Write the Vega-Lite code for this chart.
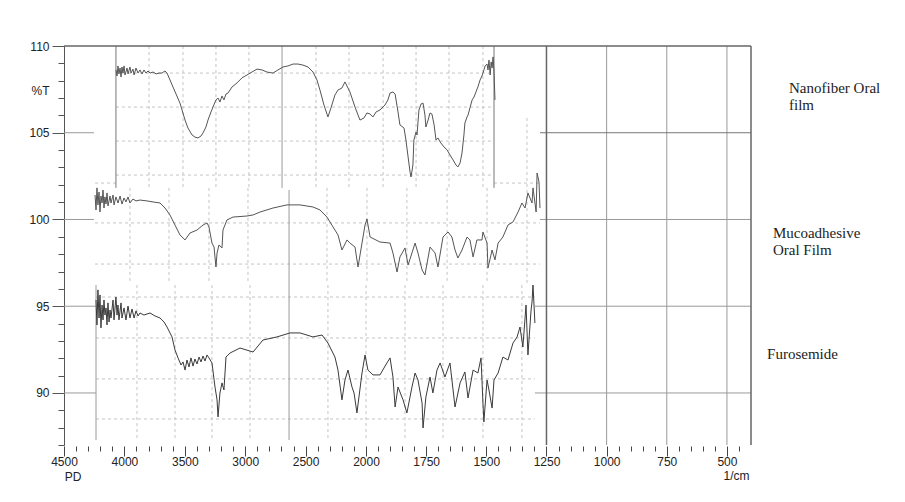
{
"$schema": "https://vega.github.io/schema/vega-lite/v6.json",
"width": 687, "height": 399,
"autosize": {"type": "none"},
"padding": {"left": 64, "top": 46, "right": 154, "bottom": 57},
"background": "white",
"config": {"view": {"stroke": null}, "font": "Liberation Sans"},
"datasets": {
"dashed": [
{"x":4070,"x2":1468,"y":108.44,"y2":108.44},{"x":4070,"x2":1468,"y":106.48,"y2":106.48},{"x":4070,"x2":1468,"y":104.52,"y2":104.52},{"x":4070,"x2":1468,"y":102.56,"y2":102.56},
{"x":3796,"x2":3796,"y":110,"y2":101.82},{"x":3515,"x2":3515,"y":110,"y2":101.82},{"x":3242,"x2":3242,"y":110,"y2":101.82},{"x":2969,"x2":2969,"y":110,"y2":101.82},{"x":2414,"x2":2414,"y":110,"y2":101.82},{"x":2141,"x2":2141,"y":110,"y2":101.82},{"x":1929,"x2":1929,"y":110,"y2":101.82},{"x":1792,"x2":1792,"y":110,"y2":101.82},{"x":1655,"x2":1655,"y":110,"y2":101.82},{"x":1514,"x2":1514,"y":110,"y2":101.82},
{"x":4243,"x2":4070,"y":102.1,"y2":102.1},{"x":1468,"x2":1277,"y":102.1,"y2":102.1},{"x":4243,"x2":1277,"y":99.8,"y2":99.8},{"x":4243,"x2":1277,"y":97.43,"y2":97.43},
{"x":3954,"x2":3954,"y":101.82,"y2":96.34},{"x":3631,"x2":3631,"y":101.82,"y2":96.34},{"x":3300,"x2":3300,"y":101.82,"y2":96.34},{"x":2977,"x2":2977,"y":101.82,"y2":96.34},{"x":2323,"x2":2323,"y":101.82,"y2":96.34},{"x":1996,"x2":1996,"y":101.82,"y2":96.34},{"x":1830,"x2":1830,"y":101.82,"y2":96.34},{"x":1663,"x2":1663,"y":101.82,"y2":96.34},{"x":1497,"x2":1497,"y":101.82,"y2":96.34},{"x":1331,"x2":1331,"y":105.85,"y2":96.34},
{"x":4235,"x2":1298,"y":95.53,"y2":95.53},{"x":4235,"x2":1298,"y":93.17,"y2":93.17},{"x":4235,"x2":1298,"y":90.81,"y2":90.81},{"x":4235,"x2":1298,"y":88.5,"y2":88.5},
{"x":3896,"x2":3896,"y":96.22,"y2":87.29},{"x":3581,"x2":3581,"y":96.22,"y2":87.29},{"x":3275,"x2":3275,"y":96.22,"y2":87.29},{"x":2960,"x2":2960,"y":96.22,"y2":87.29},{"x":2315,"x2":2315,"y":96.22,"y2":87.29},{"x":2000,"x2":2000,"y":96.22,"y2":87.29},{"x":1838,"x2":1838,"y":96.22,"y2":87.29},{"x":1680,"x2":1680,"y":96.22,"y2":87.29},{"x":1514,"x2":1514,"y":96.22,"y2":87.29},{"x":1352,"x2":1352,"y":96.22,"y2":87.29}
],
"gridlines": [
{"x":1000,"x2":1000,"y":110,"y2":87},{"x":750,"x2":750,"y":110,"y2":87},{"x":500,"x2":500,"y":110,"y2":87},
{"x":1277,"x2":400,"y":100,"y2":100},{"x":1298,"x2":400,"y":95,"y2":95},{"x":1298,"x2":400,"y":90,"y2":90},
{"x":4500,"x2":4252,"y":105,"y2":105},{"x":4500,"x2":4252,"y":100,"y2":100},{"x":4500,"x2":4235,"y":95,"y2":95},{"x":4500,"x2":4235,"y":90,"y2":90},
{"x":2695,"x2":2695,"y":110,"y2":101.82},{"x":2637,"x2":2637,"y":101.7,"y2":87.29},{"x":4235,"x2":4235,"y":96.22,"y2":87.29}
],
"edges": [
{"x":4070,"x2":4070,"y":110,"y2":101.82},{"x":1468,"x2":1468,"y":110,"y2":101.82},{"x":1277,"x2":400,"y":105,"y2":105}
],
"frame": [
{"x":4500,"x2":400,"y":110,"y2":110},{"x":400,"x2":400,"y":110,"y2":87},{"x":1250,"x2":1250,"y":110,"y2":87}
],
"spectra": [
{"sample":"Nanofiber","x":4070,"y":108.62},{"sample":"Nanofiber","x":4061,"y":108.27},{"sample":"Nanofiber","x":4053,"y":108.85},{"sample":"Nanofiber","x":4045,"y":108.39},{"sample":"Nanofiber","x":4036,"y":108.73},{"sample":"Nanofiber","x":4028,"y":108.21},{"sample":"Nanofiber","x":4020,"y":108.79},{"sample":"Nanofiber","x":4012,"y":108.44},{"sample":"Nanofiber","x":4003,"y":108.85},{"sample":"Nanofiber","x":3995,"y":108.33},{"sample":"Nanofiber","x":3978,"y":108.73},{"sample":"Nanofiber","x":3970,"y":108.39},{"sample":"Nanofiber","x":3954,"y":108.79},{"sample":"Nanofiber","x":3945,"y":108.44},{"sample":"Nanofiber","x":3929,"y":108.67},{"sample":"Nanofiber","x":3920,"y":108.33},{"sample":"Nanofiber","x":3904,"y":108.73},{"sample":"Nanofiber","x":3887,"y":108.44},{"sample":"Nanofiber","x":3871,"y":108.62},{"sample":"Nanofiber","x":3854,"y":108.39},{"sample":"Nanofiber","x":3838,"y":108.62},{"sample":"Nanofiber","x":3821,"y":108.44},{"sample":"Nanofiber","x":3805,"y":108.56},{"sample":"Nanofiber","x":3788,"y":108.44},{"sample":"Nanofiber","x":3763,"y":108.5},{"sample":"Nanofiber","x":3738,"y":108.39},{"sample":"Nanofiber","x":3714,"y":108.44},{"sample":"Nanofiber","x":3689,"y":108.44},{"sample":"Nanofiber","x":3664,"y":108.56},{"sample":"Nanofiber","x":3647,"y":108.44},{"sample":"Nanofiber","x":3598,"y":107.64},{"sample":"Nanofiber","x":3540,"y":106.71},{"sample":"Nanofiber","x":3498,"y":105.73},{"sample":"Nanofiber","x":3474,"y":105.27},{"sample":"Nanofiber","x":3440,"y":104.87},{"sample":"Nanofiber","x":3416,"y":104.75},{"sample":"Nanofiber","x":3391,"y":104.7},{"sample":"Nanofiber","x":3366,"y":104.81},{"sample":"Nanofiber","x":3349,"y":104.99},{"sample":"Nanofiber","x":3325,"y":105.33},{"sample":"Nanofiber","x":3308,"y":105.73},{"sample":"Nanofiber","x":3283,"y":106.2},{"sample":"Nanofiber","x":3267,"y":106.48},{"sample":"Nanofiber","x":3242,"y":106.89},{"sample":"Nanofiber","x":3225,"y":107.0},{"sample":"Nanofiber","x":3209,"y":106.77},{"sample":"Nanofiber","x":3192,"y":107.12},{"sample":"Nanofiber","x":3176,"y":106.89},{"sample":"Nanofiber","x":3159,"y":107.23},{"sample":"Nanofiber","x":3142,"y":107.29},{"sample":"Nanofiber","x":3109,"y":107.64},{"sample":"Nanofiber","x":3068,"y":107.87},{"sample":"Nanofiber","x":3027,"y":108.16},{"sample":"Nanofiber","x":2985,"y":108.33},{"sample":"Nanofiber","x":2944,"y":108.5},{"sample":"Nanofiber","x":2902,"y":108.67},{"sample":"Nanofiber","x":2861,"y":108.62},{"sample":"Nanofiber","x":2820,"y":108.5},{"sample":"Nanofiber","x":2770,"y":108.44},{"sample":"Nanofiber","x":2729,"y":108.62},{"sample":"Nanofiber","x":2687,"y":108.79},{"sample":"Nanofiber","x":2646,"y":108.85},{"sample":"Nanofiber","x":2604,"y":108.96},{"sample":"Nanofiber","x":2563,"y":108.96},{"sample":"Nanofiber","x":2522,"y":108.9},{"sample":"Nanofiber","x":2480,"y":108.79},{"sample":"Nanofiber","x":2439,"y":108.5},{"sample":"Nanofiber","x":2406,"y":108.04},{"sample":"Nanofiber","x":2381,"y":107.46},{"sample":"Nanofiber","x":2348,"y":106.6},{"sample":"Nanofiber","x":2315,"y":105.91},{"sample":"Nanofiber","x":2290,"y":106.43},{"sample":"Nanofiber","x":2257,"y":107.18},{"sample":"Nanofiber","x":2232,"y":107.46},{"sample":"Nanofiber","x":2199,"y":107.58},{"sample":"Nanofiber","x":2174,"y":107.93},{"sample":"Nanofiber","x":2133,"y":107.35},{"sample":"Nanofiber","x":2091,"y":106.48},{"sample":"Nanofiber","x":2050,"y":105.73},{"sample":"Nanofiber","x":2017,"y":105.85},{"sample":"Nanofiber","x":1996,"y":106.14},{"sample":"Nanofiber","x":1983,"y":106.08},{"sample":"Nanofiber","x":1971,"y":105.91},{"sample":"Nanofiber","x":1958,"y":106.2},{"sample":"Nanofiber","x":1942,"y":106.31},{"sample":"Nanofiber","x":1921,"y":106.6},{"sample":"Nanofiber","x":1909,"y":106.89},{"sample":"Nanofiber","x":1900,"y":107.29},{"sample":"Nanofiber","x":1888,"y":107.35},{"sample":"Nanofiber","x":1879,"y":107.23},{"sample":"Nanofiber","x":1867,"y":106.2},{"sample":"Nanofiber","x":1859,"y":105.45},{"sample":"Nanofiber","x":1842,"y":105.27},{"sample":"Nanofiber","x":1834,"y":104.58},{"sample":"Nanofiber","x":1825,"y":103.6},{"sample":"Nanofiber","x":1817,"y":102.74},{"sample":"Nanofiber","x":1813,"y":102.45},{"sample":"Nanofiber","x":1805,"y":103.14},{"sample":"Nanofiber","x":1801,"y":104.58},{"sample":"Nanofiber","x":1792,"y":105.04},{"sample":"Nanofiber","x":1788,"y":104.87},{"sample":"Nanofiber","x":1780,"y":106.31},{"sample":"Nanofiber","x":1771,"y":106.66},{"sample":"Nanofiber","x":1763,"y":106.71},{"sample":"Nanofiber","x":1755,"y":106.02},{"sample":"Nanofiber","x":1751,"y":105.33},{"sample":"Nanofiber","x":1742,"y":105.73},{"sample":"Nanofiber","x":1734,"y":106.14},{"sample":"Nanofiber","x":1726,"y":106.08},{"sample":"Nanofiber","x":1717,"y":105.45},{"sample":"Nanofiber","x":1709,"y":104.58},{"sample":"Nanofiber","x":1701,"y":104.7},{"sample":"Nanofiber","x":1692,"y":104.47},{"sample":"Nanofiber","x":1676,"y":104.18},{"sample":"Nanofiber","x":1663,"y":104.01},{"sample":"Nanofiber","x":1651,"y":103.72},{"sample":"Nanofiber","x":1638,"y":103.43},{"sample":"Nanofiber","x":1626,"y":103.14},{"sample":"Nanofiber","x":1618,"y":103.03},{"sample":"Nanofiber","x":1609,"y":103.26},{"sample":"Nanofiber","x":1601,"y":103.83},{"sample":"Nanofiber","x":1593,"y":104.87},{"sample":"Nanofiber","x":1589,"y":105.56},{"sample":"Nanofiber","x":1580,"y":105.91},{"sample":"Nanofiber","x":1576,"y":106.02},{"sample":"Nanofiber","x":1568,"y":106.43},{"sample":"Nanofiber","x":1559,"y":106.89},{"sample":"Nanofiber","x":1551,"y":107.06},{"sample":"Nanofiber","x":1543,"y":107.35},{"sample":"Nanofiber","x":1535,"y":107.64},{"sample":"Nanofiber","x":1526,"y":108.04},{"sample":"Nanofiber","x":1518,"y":108.27},{"sample":"Nanofiber","x":1510,"y":108.62},{"sample":"Nanofiber","x":1505,"y":108.85},{"sample":"Nanofiber","x":1497,"y":108.96},{"sample":"Nanofiber","x":1493,"y":108.62},{"sample":"Nanofiber","x":1489,"y":109.19},{"sample":"Nanofiber","x":1484,"y":108.33},{"sample":"Nanofiber","x":1480,"y":109.08},{"sample":"Nanofiber","x":1476,"y":108.73},{"sample":"Nanofiber","x":1472,"y":109.37},{"sample":"Nanofiber","x":1468,"y":108.5},{"sample":"Nanofiber","x":1464,"y":106.89},
{"sample":"Mucoadhesive","x":4243,"y":101.41},{"sample":"Mucoadhesive","x":4235,"y":100.55},{"sample":"Mucoadhesive","x":4227,"y":101.82},{"sample":"Mucoadhesive","x":4219,"y":100.84},{"sample":"Mucoadhesive","x":4210,"y":101.58},{"sample":"Mucoadhesive","x":4202,"y":100.43},{"sample":"Mucoadhesive","x":4194,"y":101.35},{"sample":"Mucoadhesive","x":4185,"y":100.95},{"sample":"Mucoadhesive","x":4177,"y":101.7},{"sample":"Mucoadhesive","x":4169,"y":100.66},{"sample":"Mucoadhesive","x":4161,"y":101.3},{"sample":"Mucoadhesive","x":4152,"y":100.89},{"sample":"Mucoadhesive","x":4144,"y":101.53},{"sample":"Mucoadhesive","x":4136,"y":100.78},{"sample":"Mucoadhesive","x":4119,"y":101.35},{"sample":"Mucoadhesive","x":4111,"y":100.95},{"sample":"Mucoadhesive","x":4094,"y":101.41},{"sample":"Mucoadhesive","x":4086,"y":100.84},{"sample":"Mucoadhesive","x":4070,"y":101.3},{"sample":"Mucoadhesive","x":4053,"y":100.95},{"sample":"Mucoadhesive","x":4036,"y":101.35},{"sample":"Mucoadhesive","x":4020,"y":100.89},{"sample":"Mucoadhesive","x":4003,"y":101.24},{"sample":"Mucoadhesive","x":3987,"y":101.01},{"sample":"Mucoadhesive","x":3970,"y":101.3},{"sample":"Mucoadhesive","x":3954,"y":100.95},{"sample":"Mucoadhesive","x":3929,"y":101.18},{"sample":"Mucoadhesive","x":3904,"y":101.07},{"sample":"Mucoadhesive","x":3871,"y":101.12},{"sample":"Mucoadhesive","x":3813,"y":101.07},{"sample":"Mucoadhesive","x":3763,"y":101.01},{"sample":"Mucoadhesive","x":3705,"y":100.95},{"sample":"Mucoadhesive","x":3664,"y":100.66},{"sample":"Mucoadhesive","x":3623,"y":100.26},{"sample":"Mucoadhesive","x":3581,"y":99.68},{"sample":"Mucoadhesive","x":3540,"y":99.11},{"sample":"Mucoadhesive","x":3498,"y":98.82},{"sample":"Mucoadhesive","x":3457,"y":99.22},{"sample":"Mucoadhesive","x":3399,"y":99.39},{"sample":"Mucoadhesive","x":3349,"y":99.68},{"sample":"Mucoadhesive","x":3316,"y":99.8},{"sample":"Mucoadhesive","x":3300,"y":99.57},{"sample":"Mucoadhesive","x":3275,"y":98.64},{"sample":"Mucoadhesive","x":3258,"y":98.41},{"sample":"Mucoadhesive","x":3242,"y":97.26},{"sample":"Mucoadhesive","x":3233,"y":98.07},{"sample":"Mucoadhesive","x":3217,"y":98.53},{"sample":"Mucoadhesive","x":3192,"y":98.36},{"sample":"Mucoadhesive","x":3184,"y":99.39},{"sample":"Mucoadhesive","x":3151,"y":99.97},{"sample":"Mucoadhesive","x":3101,"y":100.14},{"sample":"Mucoadhesive","x":2985,"y":100.2},{"sample":"Mucoadhesive","x":2935,"y":100.26},{"sample":"Mucoadhesive","x":2877,"y":100.43},{"sample":"Mucoadhesive","x":2770,"y":100.66},{"sample":"Mucoadhesive","x":2654,"y":100.84},{"sample":"Mucoadhesive","x":2546,"y":100.84},{"sample":"Mucoadhesive","x":2439,"y":100.72},{"sample":"Mucoadhesive","x":2381,"y":100.55},{"sample":"Mucoadhesive","x":2323,"y":100.14},{"sample":"Mucoadhesive","x":2273,"y":99.57},{"sample":"Mucoadhesive","x":2232,"y":99.11},{"sample":"Mucoadhesive","x":2199,"y":98.24},{"sample":"Mucoadhesive","x":2157,"y":98.82},{"sample":"Mucoadhesive","x":2133,"y":98.64},{"sample":"Mucoadhesive","x":2091,"y":98.41},{"sample":"Mucoadhesive","x":2066,"y":97.26},{"sample":"Mucoadhesive","x":2033,"y":98.64},{"sample":"Mucoadhesive","x":2008,"y":99.68},{"sample":"Mucoadhesive","x":1996,"y":100.03},{"sample":"Mucoadhesive","x":1983,"y":98.99},{"sample":"Mucoadhesive","x":1942,"y":98.7},{"sample":"Mucoadhesive","x":1900,"y":98.64},{"sample":"Mucoadhesive","x":1888,"y":98.07},{"sample":"Mucoadhesive","x":1871,"y":96.97},{"sample":"Mucoadhesive","x":1859,"y":97.84},{"sample":"Mucoadhesive","x":1838,"y":98.36},{"sample":"Mucoadhesive","x":1825,"y":97.38},{"sample":"Mucoadhesive","x":1809,"y":98.07},{"sample":"Mucoadhesive","x":1796,"y":98.64},{"sample":"Mucoadhesive","x":1784,"y":98.07},{"sample":"Mucoadhesive","x":1767,"y":97.09},{"sample":"Mucoadhesive","x":1755,"y":96.8},{"sample":"Mucoadhesive","x":1734,"y":98.41},{"sample":"Mucoadhesive","x":1713,"y":98.07},{"sample":"Mucoadhesive","x":1701,"y":97.26},{"sample":"Mucoadhesive","x":1680,"y":98.99},{"sample":"Mucoadhesive","x":1659,"y":99.28},{"sample":"Mucoadhesive","x":1643,"y":98.99},{"sample":"Mucoadhesive","x":1630,"y":98.24},{"sample":"Mucoadhesive","x":1618,"y":97.78},{"sample":"Mucoadhesive","x":1601,"y":98.24},{"sample":"Mucoadhesive","x":1580,"y":98.99},{"sample":"Mucoadhesive","x":1568,"y":98.82},{"sample":"Mucoadhesive","x":1555,"y":97.84},{"sample":"Mucoadhesive","x":1539,"y":98.82},{"sample":"Mucoadhesive","x":1518,"y":98.82},{"sample":"Mucoadhesive","x":1514,"y":99.28},{"sample":"Mucoadhesive","x":1497,"y":98.64},{"sample":"Mucoadhesive","x":1493,"y":97.2},{"sample":"Mucoadhesive","x":1476,"y":98.24},{"sample":"Mucoadhesive","x":1464,"y":97.67},{"sample":"Mucoadhesive","x":1451,"y":98.64},{"sample":"Mucoadhesive","x":1431,"y":98.99},{"sample":"Mucoadhesive","x":1410,"y":99.68},{"sample":"Mucoadhesive","x":1389,"y":99.86},{"sample":"Mucoadhesive","x":1368,"y":100.43},{"sample":"Mucoadhesive","x":1352,"y":100.95},{"sample":"Mucoadhesive","x":1339,"y":100.66},{"sample":"Mucoadhesive","x":1327,"y":101.53},{"sample":"Mucoadhesive","x":1310,"y":100.95},{"sample":"Mucoadhesive","x":1306,"y":101.82},{"sample":"Mucoadhesive","x":1293,"y":100.43},{"sample":"Mucoadhesive","x":1289,"y":102.68},{"sample":"Mucoadhesive","x":1281,"y":102.16},{"sample":"Mucoadhesive","x":1277,"y":100.66},
{"sample":"Furosemide","x":4235,"y":95.36},{"sample":"Furosemide","x":4227,"y":93.92},{"sample":"Furosemide","x":4219,"y":95.94},{"sample":"Furosemide","x":4210,"y":94.32},{"sample":"Furosemide","x":4202,"y":95.65},{"sample":"Furosemide","x":4194,"y":93.75},{"sample":"Furosemide","x":4185,"y":95.07},{"sample":"Furosemide","x":4177,"y":94.21},{"sample":"Furosemide","x":4169,"y":95.36},{"sample":"Furosemide","x":4161,"y":94.49},{"sample":"Furosemide","x":4152,"y":94.9},{"sample":"Furosemide","x":4144,"y":93.92},{"sample":"Furosemide","x":4136,"y":95.19},{"sample":"Furosemide","x":4127,"y":94.09},{"sample":"Furosemide","x":4119,"y":94.78},{"sample":"Furosemide","x":4111,"y":94.32},{"sample":"Furosemide","x":4094,"y":95.36},{"sample":"Furosemide","x":4086,"y":94.21},{"sample":"Furosemide","x":4070,"y":95.53},{"sample":"Furosemide","x":4061,"y":94.49},{"sample":"Furosemide","x":4053,"y":95.07},{"sample":"Furosemide","x":4045,"y":94.21},{"sample":"Furosemide","x":4028,"y":95.19},{"sample":"Furosemide","x":4020,"y":94.32},{"sample":"Furosemide","x":4003,"y":94.9},{"sample":"Furosemide","x":3987,"y":94.21},{"sample":"Furosemide","x":3970,"y":95.01},{"sample":"Furosemide","x":3954,"y":94.32},{"sample":"Furosemide","x":3937,"y":94.84},{"sample":"Furosemide","x":3920,"y":94.32},{"sample":"Furosemide","x":3904,"y":94.73},{"sample":"Furosemide","x":3887,"y":94.44},{"sample":"Furosemide","x":3871,"y":94.61},{"sample":"Furosemide","x":3838,"y":94.49},{"sample":"Furosemide","x":3788,"y":94.61},{"sample":"Furosemide","x":3747,"y":94.44},{"sample":"Furosemide","x":3705,"y":94.32},{"sample":"Furosemide","x":3672,"y":94.09},{"sample":"Furosemide","x":3647,"y":93.8},{"sample":"Furosemide","x":3606,"y":93.23},{"sample":"Furosemide","x":3581,"y":92.48},{"sample":"Furosemide","x":3556,"y":92.02},{"sample":"Furosemide","x":3531,"y":91.61},{"sample":"Furosemide","x":3515,"y":91.79},{"sample":"Furosemide","x":3498,"y":91.32},{"sample":"Furosemide","x":3482,"y":91.9},{"sample":"Furosemide","x":3465,"y":91.5},{"sample":"Furosemide","x":3449,"y":92.02},{"sample":"Furosemide","x":3432,"y":91.55},{"sample":"Furosemide","x":3416,"y":91.96},{"sample":"Furosemide","x":3399,"y":91.67},{"sample":"Furosemide","x":3382,"y":92.07},{"sample":"Furosemide","x":3366,"y":91.79},{"sample":"Furosemide","x":3349,"y":92.13},{"sample":"Furosemide","x":3333,"y":91.84},{"sample":"Furosemide","x":3316,"y":92.19},{"sample":"Furosemide","x":3300,"y":92.02},{"sample":"Furosemide","x":3275,"y":91.73},{"sample":"Furosemide","x":3250,"y":90.34},{"sample":"Furosemide","x":3233,"y":89.6},{"sample":"Furosemide","x":3225,"y":88.62},{"sample":"Furosemide","x":3209,"y":90.0},{"sample":"Furosemide","x":3192,"y":90.58},{"sample":"Furosemide","x":3176,"y":90.17},{"sample":"Furosemide","x":3159,"y":92.07},{"sample":"Furosemide","x":3126,"y":92.3},{"sample":"Furosemide","x":3043,"y":92.59},{"sample":"Furosemide","x":2935,"y":92.36},{"sample":"Furosemide","x":2853,"y":93.05},{"sample":"Furosemide","x":2737,"y":93.23},{"sample":"Furosemide","x":2629,"y":93.46},{"sample":"Furosemide","x":2546,"y":93.46},{"sample":"Furosemide","x":2439,"y":93.23},{"sample":"Furosemide","x":2364,"y":93.34},{"sample":"Furosemide","x":2315,"y":92.88},{"sample":"Furosemide","x":2257,"y":92.07},{"sample":"Furosemide","x":2232,"y":91.32},{"sample":"Furosemide","x":2199,"y":89.6},{"sample":"Furosemide","x":2174,"y":90.75},{"sample":"Furosemide","x":2149,"y":91.32},{"sample":"Furosemide","x":2116,"y":90.34},{"sample":"Furosemide","x":2099,"y":90.0},{"sample":"Furosemide","x":2075,"y":88.85},{"sample":"Furosemide","x":2033,"y":91.15},{"sample":"Furosemide","x":2008,"y":92.19},{"sample":"Furosemide","x":1992,"y":91.32},{"sample":"Furosemide","x":1971,"y":91.04},{"sample":"Furosemide","x":1942,"y":91.04},{"sample":"Furosemide","x":1913,"y":91.73},{"sample":"Furosemide","x":1900,"y":92.02},{"sample":"Furosemide","x":1888,"y":90.92},{"sample":"Furosemide","x":1879,"y":89.19},{"sample":"Furosemide","x":1867,"y":90.34},{"sample":"Furosemide","x":1846,"y":89.6},{"sample":"Furosemide","x":1830,"y":88.85},{"sample":"Furosemide","x":1809,"y":90.34},{"sample":"Furosemide","x":1796,"y":91.15},{"sample":"Furosemide","x":1784,"y":90.75},{"sample":"Furosemide","x":1767,"y":89.42},{"sample":"Furosemide","x":1763,"y":87.98},{"sample":"Furosemide","x":1751,"y":89.77},{"sample":"Furosemide","x":1734,"y":90.92},{"sample":"Furosemide","x":1722,"y":90.0},{"sample":"Furosemide","x":1705,"y":91.32},{"sample":"Furosemide","x":1692,"y":91.73},{"sample":"Furosemide","x":1672,"y":90.92},{"sample":"Furosemide","x":1651,"y":91.73},{"sample":"Furosemide","x":1630,"y":89.19},{"sample":"Furosemide","x":1609,"y":90.58},{"sample":"Furosemide","x":1589,"y":91.21},{"sample":"Furosemide","x":1576,"y":89.71},{"sample":"Furosemide","x":1555,"y":91.32},{"sample":"Furosemide","x":1535,"y":91.15},{"sample":"Furosemide","x":1522,"y":92.02},{"sample":"Furosemide","x":1514,"y":89.42},{"sample":"Furosemide","x":1510,"y":88.33},{"sample":"Furosemide","x":1497,"y":90.75},{"sample":"Furosemide","x":1489,"y":90.17},{"sample":"Furosemide","x":1476,"y":89.13},{"sample":"Furosemide","x":1468,"y":90.75},{"sample":"Furosemide","x":1451,"y":91.15},{"sample":"Furosemide","x":1431,"y":92.07},{"sample":"Furosemide","x":1410,"y":91.9},{"sample":"Furosemide","x":1389,"y":92.88},{"sample":"Furosemide","x":1372,"y":93.23},{"sample":"Furosemide","x":1360,"y":93.8},{"sample":"Furosemide","x":1348,"y":92.65},{"sample":"Furosemide","x":1335,"y":95.07},{"sample":"Furosemide","x":1327,"y":92.19},{"sample":"Furosemide","x":1314,"y":94.78},{"sample":"Furosemide","x":1310,"y":95.24},{"sample":"Furosemide","x":1306,"y":96.22},{"sample":"Furosemide","x":1298,"y":94.03}
],
"labels": [
{"label":"Nanofiber Oral\nfilm","x":242,"y":107.29},
{"label":"Mucoadhesive\nOral Film","x":309,"y":98.93},
{"label":"Furosemide","x":333,"y":91.96}
],
"pd": [{"label":"PD","x":4425,"y":84.9}]
},
"encoding": {
"x": {"field":"x","type":"quantitative",
 "scale":{"domain":[4500,2000,400],"range":[0,302,687],"zero":false,"nice":false},
 "axis":{"values":[4500,4400,4300,4200,4100,4000,3900,3800,3700,3600,3500,3400,3300,3200,3100,3000,2900,2800,2700,2600,2500,2400,2300,2200,2100,2000,1950,1900,1850,1800,1750,1700,1650,1600,1550,1500,1450,1400,1350,1300,1250,1200,1150,1100,1050,1000,950,900,850,800,750,700,650,600,550,500,450],
  "format":"d",
  "labelExpr":"indexof([4500,4000,3500,3000,2500,2000,1750,1500,1250,1000,750,500], datum.value) >= 0 ? datum.label : ''",
  "tickSize":{"condition":{"test":"indexof([4500,4000,3500,3000,2500,2000,1750,1500,1250,1000,750,500], datum.value) >= 0","value":10},"value":5},
  "domain":false,"grid":false,"offset":1,"tickColor":"#444","labelColor":"#222","labelFont":"Liberation Sans","labelFontSize":12,"labelPadding":0,"labelOverlap":false,"labelFlush":false,
  "title":"1/cm","titleX":672,"titleY":33,"titleAlign":"center","titleBaseline":"alphabetic","titleFont":"Liberation Sans","titleFontSize":12,"titleFontWeight":"normal","titleColor":"#222"}},
"y": {"field":"y","type":"quantitative",
 "scale":{"domain":[87,110],"zero":false,"nice":false},
 "axis":{"values":[87,88,89,90,91,92,93,94,95,96,97,98,99,100,101,102,103,104,105,106,107,108,109,110],
  "format":"d",
  "labelExpr":"datum.value % 5 === 0 ? datum.label : ''",
  "tickSize":{"condition":{"test":"datum.value % 5 === 0","value":12},"value":6},
  "domainColor":"#555","tickColor":"#555","grid":false,"labelColor":"#222","labelFont":"Liberation Sans","labelFontSize":12,"labelPadding":3,"labelOverlap":false,"labelFlush":false,
  "title":"%T","titleAngle":0,"titleX":-24,"titleY":44,"titleAlign":"center","titleBaseline":"middle","titleFont":"Liberation Sans","titleFontSize":12,"titleFontWeight":"normal","titleColor":"#222"}}
},
"layer": [
{"data":{"name":"dashed"},"mark":{"type":"rule","color":"#c4c4c4","strokeDash":[3,3],"strokeWidth":1},"encoding":{"x2":{"field":"x2"},"y2":{"field":"y2"}}},
{"data":{"name":"gridlines"},"mark":{"type":"rule","color":"#9a9a9a","strokeWidth":1},"encoding":{"x2":{"field":"x2"},"y2":{"field":"y2"}}},
{"data":{"name":"edges"},"mark":{"type":"rule","color":"#777777","strokeWidth":1},"encoding":{"x2":{"field":"x2"},"y2":{"field":"y2"}}},
{"data":{"name":"frame"},"mark":{"type":"rule","color":"#666666","strokeWidth":1.5},"encoding":{"x2":{"field":"x2"},"y2":{"field":"y2"}}},
{"data":{"name":"spectra"},"mark":{"type":"line","strokeWidth":1},"encoding":{"color":{"field":"sample","type":"nominal","scale":{"domain":["Nanofiber","Mucoadhesive","Furosemide"],"range":["#555555","#555555","#3a3a3a"]},"legend":null}}},
{"data":{"name":"labels"},"mark":{"type":"text","align":"left","baseline":"alphabetic","font":"Liberation Serif","fontSize":15,"lineBreak":"\n","lineHeight":17,"color":"#222222"},"encoding":{"text":{"field":"label"}}},
{"data":{"name":"pd"},"mark":{"type":"text","align":"center","baseline":"alphabetic","font":"Liberation Sans","fontSize":12,"color":"#222222"},"encoding":{"text":{"field":"label"}}}
]
}
